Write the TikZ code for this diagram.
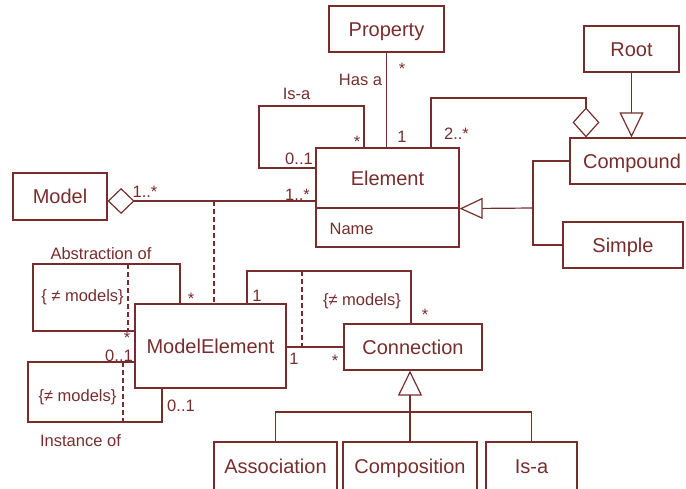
\documentclass[tikz,border=0pt]{standalone}
\usepackage{fontspec}
\setmainfont{Liberation Sans}
\usetikzlibrary{arrows.meta}
\definecolor{ink}{RGB}{120,45,45}
\begin{document}
\begin{tikzpicture}[x=1pt,y=-1pt,color=ink,line width=1.2pt,
  box/.style={draw=ink,rectangle,inner sep=0pt,text height=14.5pt,text depth=0pt,font=\fontsize{20}{24}\selectfont},
  lbl/.style={font=\fontsize{16.5}{19}\selectfont,inner sep=0pt,anchor=base,text=ink},
  conn/.style={draw=ink,line width=1.2pt},
  dsh/.style={conn,dash pattern=on 5pt off 3pt},
  gen/.style={conn,-{Triangle[open,length=25pt,width=24pt]}},
  genh/.style={conn,-{Triangle[open,length=23pt,width=21pt]}},
  aggtip/.style={conn,-{Diamond[open,length=30pt,width=27pt]}},
  aggtail/.style={conn,{Diamond[open,length=27pt,width=26pt]}-}]
\useasboundingbox (0,0) rectangle (686,488);

% classes
\node[box,minimum width=115,minimum height=46] (property) at (386.5,29) {Property};
\node[box,minimum width=95,minimum height=46] (root) at (631.5,49) {Root};
\node[box,minimum width=124,minimum height=46] (compound) at (632,161) {Compound};
\node[box,minimum width=120,minimum height=46] (simple) at (623,245) {Simple};
\node[box,minimum width=143,minimum height=60] (element) at (387.5,178) {Element};
\node[box,minimum width=143,minimum height=39] (elname) at (387.5,227.5) {};
\node[lbl,anchor=base west] (namelbl) at (329,234) {Name};
\node[box,minimum width=94,minimum height=47] (model) at (60,196.5) {Model};
\node[box,minimum width=151,minimum height=84] (modelelement) at (210.5,346) {ModelElement};
\node[box,minimum width=138,minimum height=46] (connection) at (413,347) {Connection};
\node[box,minimum width=123,minimum height=48] (association) at (275.5,466) {Association};
\node[box,minimum width=134,minimum height=48] (composition) at (410,466) {Composition};
\node[box,minimum width=91,minimum height=48] (isa) at (531.5,466) {Is-a};

% connectors
\draw[conn] (property.south) -- (property.south |- element.north);
\draw[conn] (element.west |- 0,168) -| (259,106) -| (element.north -| 364,0);
\draw[aggtip] (element.north -| 431,0) |- (586,98) -- (compound.north -| 586,0);
\draw[gen] (root.south) -- (root.south |- compound.north);
\coordinate (gj) at (533,208);
\draw[conn] (compound.west) -| (gj) |- (simple.west);
\draw[genh] (gj) -- (element.south east);
\draw[aggtail] (model.east |- 0,201) -- (element.west |- 0,201);
\draw[dsh] (214,201) -- (modelelement.north -| 214,0);
\draw[conn] (modelelement.north -| 180,0) |- (33,264) |- (modelelement.west |- 0,331);
\draw[dsh] (128,264) -- (128,331);
\draw[conn] (modelelement.west |- 0,362) -| (28,422) -| (modelelement.south -| 162,0);
\draw[dsh] (123,362) -- (123,422);
\draw[conn] (modelelement.east |- connection.west) -- (connection.west);
\draw[conn] (modelelement.north -| 247,0) |- (411,271) -- (connection.north -| 411,0);
\draw[dsh] (302,271) -- (302,347);
\draw[gen] (composition.north) -- (composition.north |- connection.south);
\draw[conn] (association.north) |- (isa.north |- 0,412) -- (isa.north);

% labels
\node[lbl] (l1) at (402,74) {*};
\node[lbl] (l2) at (360.5,85) {Has a};
\node[lbl] (l3) at (402,142) {1};
\node[lbl] (l4) at (296.5,99) {Is-a};
\node[lbl] (l5) at (357,147) {*};
\node[lbl] (l6) at (299,164) {0..1};
\node[lbl] (l7) at (297.5,200) {1..*};
\node[lbl] (l8) at (456.5,139) {2..*};
\node[lbl] (l9) at (145,197) {1..*};
\node[lbl] (l10) at (101,259) {Abstraction of};
\node[lbl] (l11) at (82.5,301) {\{ ≠ models\}};
\node[lbl] (l12) at (191,304) {*};
\node[lbl] (l13) at (127,343) {*};
\node[lbl] (l14) at (119,361) {0..1};
\node[lbl] (l15) at (77.5,401) {\{≠ models\}};
\node[lbl] (l16) at (181,411) {0..1};
\node[lbl] (l17) at (80.5,446) {Instance of};
\node[lbl] (l18) at (294,364) {1};
\node[lbl] (l19) at (335,366) {*};
\node[lbl] (l20) at (257,301) {1};
\node[lbl] (l21) at (362,305) {\{≠ models\}};
\node[lbl] (l22) at (425,320) {*};
\end{tikzpicture}
\end{document}
